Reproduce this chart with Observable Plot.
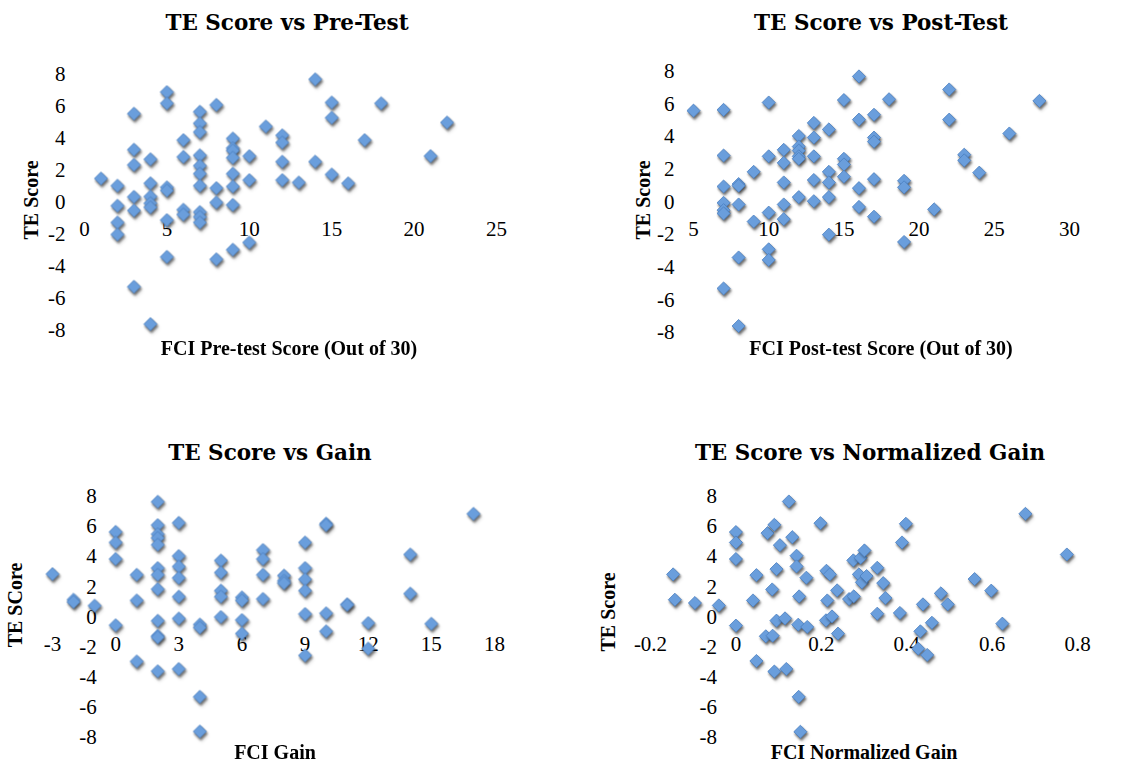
<!DOCTYPE html>
<html>
<head>
<meta charset="utf-8">
<script src="https://cdn.jsdelivr.net/npm/d3@7"></script>
<script src="https://cdn.jsdelivr.net/npm/@observablehq/plot@0.6"></script>
<style>
  html, body { margin: 0; padding: 0; background: #fff; }
  #root { position: relative; width: 1130px; height: 767px; background: #fff; overflow: hidden; }
  .pane { position: absolute; }
  .ttl { position: absolute; font-family: "DejaVu Serif", serif; font-weight: bold; font-size: 21.5px; color: #000; white-space: nowrap; transform: translate(-50%, -50%); }
  .axt { position: absolute; font-family: "Liberation Serif", serif; font-weight: bold; font-size: 20px; color: #000; white-space: nowrap; transform: translate(-50%, -50%); }
  .axy { position: absolute; font-family: "Liberation Serif", serif; font-weight: bold; font-size: 20px; color: #000; white-space: nowrap; transform: translate(-50%, -50%) rotate(-90deg); }
  .mk path, .mk { filter: drop-shadow(1px 2px 1.2px rgba(0,0,0,0.35)); }
</style>
</head>
<body>
<div id="root"></div>
<script>
// ---------- data ----------
const yTicks = [-8, -6, -4, -2, 0, 2, 4, 6, 8];

const preTicks = [0, 5, 10, 15, 20, 25];
const preX = [1,2,2,2,2,3,3,3,3,3,3,4,4,4,4,4,4,5,5,5,5,5,5,6,6,6,6,7,7,7,7,7,7,7,7,7,7,8,8,8,8,9,9,9,9,9,9,9,9,10,10,10,11,12,12,12,12,13,14,14,15,15,15,16,17,18,21,22];
const preY = [1.5,1.05,-0.2,-1.25,-2.0,5.55,3.3,2.35,0.35,-0.5,-5.27,2.7,1.2,0.37,-0.05,-0.3,-7.6,6.9,6.2,0.95,0.75,-1.1,-3.4,3.9,2.85,-0.45,-0.75,5.67,4.95,4.4,2.95,2.3,1.8,1.05,-0.6,-0.9,-1.25,6.1,0.9,0,-3.55,4.0,3.4,3.25,2.8,1.8,1.0,-0.15,-2.95,2.9,1.4,-2.5,4.75,4.2,3.75,2.55,1.4,1.25,7.7,2.55,6.25,5.3,1.75,1.2,3.9,6.2,2.9,5.0];

const postTicks = [5, 10, 15, 20, 25, 30];
const postX = [5,7,7,7,7,7,7,7,8,8,8,8,8,9,9,10,10,10,10,10,11,11,11,11,11,12,12,12,12,12,12,13,13,13,13,13,14,14,14,14,14,15,15,15,15,16,16,16,16,17,17,17,17,17,18,19,19,19,21,22,22,23,23,24,26,28];
const postY = [5.6,5.65,2.85,0.95,-0.05,-0.5,-0.7,-5.3,1.1,1.0,-0.15,-3.4,-7.6,1.85,-1.2,6.1,2.8,-0.65,-2.9,-3.55,3.2,2.4,1.2,-0.15,-1.05,4.05,3.4,3.15,2.8,2.65,0.3,4.85,3.95,2.8,1.35,0.05,4.45,1.85,1.2,0.3,-2.0,6.25,2.65,2.3,1.55,7.7,5.05,0.85,-0.3,5.35,3.95,3.7,1.4,-0.9,6.3,1.3,0.9,-2.45,-0.45,6.9,5.05,2.9,2.55,1.8,4.2,6.2];

const gainTicks = [-3, 0, 3, 6, 9, 12, 15, 18];
const gainX = [-3,-2,-2,-1,0,0,0,0,1,1,1,2,2,2,2,2,2,2,2,2,2,2,2,3,3,3,3,3,3,3,4,4,4,4,5,5,5,5,5,6,6,6,6,7,7,7,7,8,8,8,9,9,9,9,9,9,10,10,10,10,11,11,12,12,14,14,15,17];
const gainY = [2.85,1.15,1.0,0.75,5.65,4.95,3.85,-0.55,2.8,1.1,-2.95,7.65,6.1,5.5,5.25,4.8,3.25,2.8,1.85,-0.25,-1.25,-1.35,-3.6,6.25,4.05,3.35,2.6,1.35,-0.1,-3.45,-0.5,-0.7,-5.3,-7.6,3.75,2.95,1.75,1.35,0,1.3,1.1,-0.2,-1.1,4.45,3.85,2.8,1.2,2.75,2.4,2.25,4.95,3.25,2.5,1.75,0.2,-2.55,6.2,6.1,0.25,-0.95,0.85,0.8,-0.4,-2.1,4.15,1.55,-0.45,6.85];

const normTicks = [-0.2, 0, 0.2, 0.4, 0.6, 0.8];
const normX = [-0.147,-0.143,-0.096,-0.04,0,0,0,0,0.04,0.048,0.048,0.07,0.074,0.086,0.085,0.09,0.09,0.095,0.095,0.103,0.115,0.118,0.124,0.132,0.142,0.142,0.146,0.147,0.148,0.151,0.165,0.167,0.198,0.212,0.214,0.211,0.22,0.225,0.237,0.239,0.265,0.275,0.276,0.288,0.292,0.295,0.301,0.306,0.331,0.331,0.345,0.35,0.384,0.389,0.398,0.427,0.432,0.438,0.448,0.459,0.48,0.496,0.559,0.598,0.624,0.678,0.775];
const normY = [2.83,1.15,0.93,0.77,5.64,4.95,3.85,-0.57,1.1,2.78,-2.92,-1.28,5.57,-1.24,1.83,6.12,-3.62,3.18,-0.24,4.77,-0.09,-3.45,7.67,5.3,4.07,3.36,-0.51,-5.3,1.37,-7.62,2.61,-0.66,6.23,3.07,1.1,-0.22,2.83,0.04,1.77,-1.1,1.19,3.76,1.37,2.83,3.93,2.3,4.42,2.72,3.27,0.22,2.25,1.26,0.27,4.95,6.19,-2.1,-0.95,0.84,-2.52,-0.38,1.57,0.84,2.52,1.75,-0.44,6.85,4.15];

const titles = ["TE Score vs Pre-Test", "TE Score vs Post-Test", "TE Score vs Gain", "TE Score vs Normalized Gain"];
const xTitles = ["FCI Pre-test Score (Out of 30)", "FCI Post-test Score (Out of 30)", "FCI Gain", "FCI Normalized Gain"];
const yTitles = ["TE Score", "TE Score", "TE SCore", "TE Score"];

// ---------- drawing ----------
const root = document.getElementById("root");

function panel(cfg) {
  const data = cfg.xs.map((x, i) => ({x, y: cfg.ys[i]}));
  const svg = Plot.plot({
    width: cfg.w, height: cfg.h,
    marginLeft: cfg.ml, marginRight: cfg.mr, marginTop: cfg.mt, marginBottom: cfg.mb,
    x: {domain: cfg.xDomain, axis: null},
    y: {domain: [-8, 8], axis: null},
    style: {fontFamily: "Liberation Serif", fontSize: "21px", background: "transparent", overflow: "visible", color: "#000"},
    marks: [
      Plot.text(cfg.xTicks, {x: d => d, y: () => 0, dy: 27, text: d => String(d), fontSize: 21, fill: "#000"}),
      Plot.text(yTicks, {x: () => cfg.origin, y: d => d, dx: -19, textAnchor: "end", text: d => String(d), fontSize: 21, fill: "#000"}),
      Plot.dot(data, {x: "x", y: "y", symbol: "diamond2", r: 5.9, fill: "#6a9edc", stroke: "#4a7fc0", strokeWidth: 0.8, className: "mk"})
    ]
  });
  const div = document.createElement("div");
  div.className = "pane";
  div.style.left = cfg.left + "px";
  div.style.top = cfg.top + "px";
  div.appendChild(svg);
  root.appendChild(div);
}

function label(cls, text, x, y) {
  const d = document.createElement("div");
  d.className = cls;
  d.textContent = text;
  d.style.left = x + "px";
  d.style.top = y + "px";
  root.appendChild(d);
}

panel({xs: preX, ys: preY, xTicks: preTicks, xDomain: [0, 25], origin: 0,
  left: 0, top: 0, w: 540, h: 380, ml: 84, mr: 44, mt: 74, mb: 50});
panel({xs: postX, ys: postY, xTicks: postTicks, xDomain: [5, 30], origin: 5,
  left: 565, top: 0, w: 565, h: 380, ml: 128, mr: 61, mt: 71, mb: 48});
panel({xs: gainX, ys: gainY, xTicks: gainTicks, xDomain: [-3, 18], origin: 0,
  left: 0, top: 420, w: 540, h: 347, ml: 52, mr: 46, mt: 76, mb: 30});
panel({xs: normX, ys: normY, xTicks: normTicks, xDomain: [-0.2, 0.8], origin: 0,
  left: 565, top: 420, w: 565, h: 347, ml: 85, mr: 53, mt: 76, mb: 30});

label("ttl", titles[0], 287, 22);
label("ttl", titles[1], 881, 22);
label("ttl", titles[2], 270, 452);
label("ttl", titles[3], 870, 452);

label("axt", xTitles[0], 289, 348);
label("axt", xTitles[1], 881, 348);
label("axt", xTitles[2], 275, 752);
label("axt", xTitles[3], 864, 752);

label("axy", yTitles[0], 31, 200);
label("axy", yTitles[1], 643, 200);
label("axy", yTitles[2], 15, 605);
label("axy", yTitles[3], 608, 612);
</script>
</body>
</html>
